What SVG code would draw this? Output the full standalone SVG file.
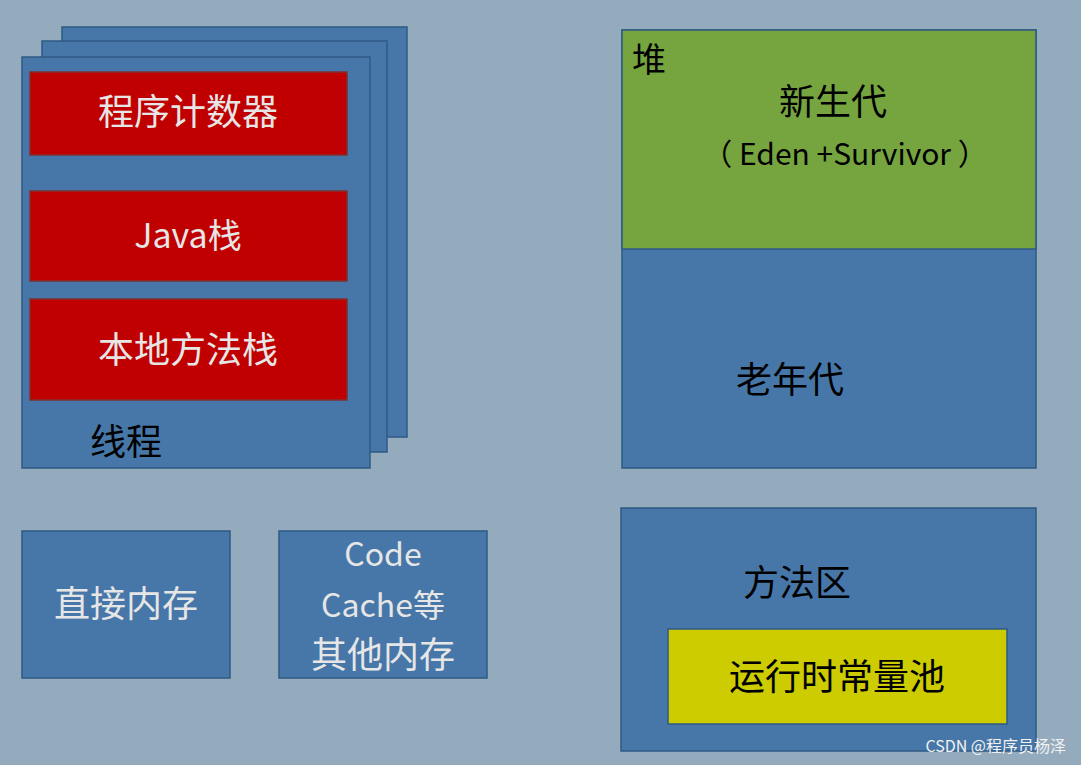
<svg xmlns="http://www.w3.org/2000/svg" width="1081" height="765" viewBox="0 0 1081 765">
<style>
.b{fill:#4677A8;stroke:#2F5A85;stroke-width:1.5}
.r{fill:#C00000;stroke:#7F3030;stroke-width:1.5}
.t{font-family:"Noto Sans CJK SC","Open Sans",sans-serif;text-anchor:middle}
.w{fill:#E6E6E6}
.k{fill:#000}
</style>
<rect width="1081" height="765" fill="#94AABD"/>
<g id="thread">
<rect class="b" x="62" y="27" width="345" height="410"/>
<rect class="b" x="42" y="41" width="345" height="411"/>
<rect class="b" x="22" y="57" width="348" height="411"/>
<text class="t k" x="126" y="455" font-size="36">线程</text>
</g>
<g id="pc"><rect class="r" x="30" y="72" width="317" height="83"/><text class="t w" x="188" y="125" font-size="36">程序计数器</text></g>
<g id="javastack"><rect class="r" x="30" y="191" width="317" height="90"/><text class="t w" x="188" y="248" font-size="34">Java栈</text></g>
<g id="native"><rect class="r" x="30" y="299" width="317" height="101"/><text class="t w" x="188" y="363" font-size="36">本地方法栈</text></g>
<g id="heap">
<rect class="b" x="622" y="30" width="414" height="438"/>
<rect x="622" y="30" width="414" height="219" fill="#76A540" stroke="#2F5A85" stroke-width="1.5"/>
<text class="t k" x="649" y="72" font-size="34">堆</text>
<text class="t k" x="833" y="115" font-size="36">新生代</text>
<text class="t k" x="845" y="165" font-size="30">（ Eden +Survivor ）</text>
<text class="t k" x="790" y="393" font-size="36">老年代</text>
</g>
<g id="direct"><rect class="b" x="22" y="531" width="208" height="147"/><text class="t w" x="126" y="617" font-size="36">直接内存</text></g>
<g id="codecache"><rect class="b" x="279" y="531" width="208" height="147"/>
<text class="t w" x="383" y="566" font-size="32">Code</text>
<text class="t w" x="383" y="617" font-size="32">Cache等</text>
<text class="t w" x="383" y="668" font-size="36">其他内存</text></g>
<g id="method"><rect class="b" x="621" y="508" width="415" height="243"/>
<text class="t k" x="797" y="596" font-size="36">方法区</text></g>
<g id="pool"><rect x="668" y="629" width="339" height="95" fill="#CCCC00" stroke="#2F5A85" stroke-width="1.5"/>
<text class="t k" x="837" y="690" font-size="36">运行时常量池</text></g>
<g id="connectors"/>
<text x="1066" y="752" font-family="Noto Sans CJK SC,sans-serif" font-size="16" fill="#F2F2F2" text-anchor="end">CSDN @程序员杨泽</text>
</svg>
